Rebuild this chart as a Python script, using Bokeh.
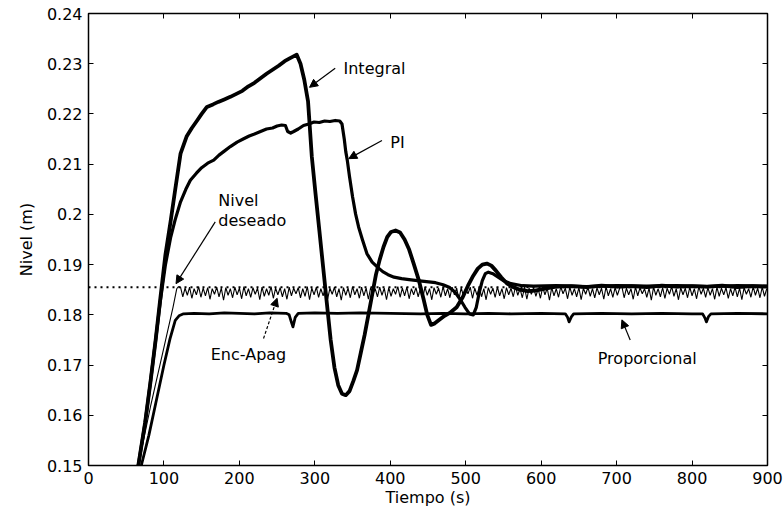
from bokeh.plotting import figure
from bokeh.models import (Range1d, FixedTicker, LinearAxis, Span, Arrow, NormalHead,
                          Label, CustomJSTickFormatter)
from bokeh.embed import file_html
from bokeh.resources import INLINE

# ---------------- data ----------------
x_ticks = [0, 100, 200, 300, 400, 500, 600, 700, 800, 900]
y_ticks = [0.15, 0.16, 0.17, 0.18, 0.19, 0.20, 0.21, 0.22, 0.23, 0.24]

setpoint = 0.1855  # Nivel deseado

integral_t = [66, 75, 82, 89, 95, 102, 109, 115, 122, 130, 137, 144, 150, 157, 165, 172, 180,
              188, 196, 204, 212, 220, 228, 236, 244, 252, 260, 266, 271, 276, 281, 286, 291,
              296, 301, 306, 311, 316, 321, 326, 331, 336, 341, 346, 351, 356, 361, 366, 371,
              376, 381, 386, 391, 396, 401, 407, 413, 419, 425, 431, 438, 444, 449, 454, 459,
              465, 472, 480, 488, 496, 503, 510, 516, 522, 528, 534, 540, 547, 555, 563, 572,
              582, 592, 605, 620, 640, 660, 680, 700, 720, 740, 760, 780, 800, 820, 840, 860,
              880, 900]
integral_y = [0.1500, 0.1585, 0.1665, 0.1750, 0.1830, 0.1920, 0.1988, 0.2050, 0.2121, 0.2155,
              0.2172, 0.2187, 0.2200, 0.2214, 0.2219, 0.2224, 0.2229, 0.2234, 0.2240, 0.2246,
              0.2255, 0.2262, 0.2271, 0.2280, 0.2288, 0.2296, 0.2305, 0.2310, 0.2314, 0.2318,
              0.2300, 0.2268, 0.2225, 0.2115, 0.2040, 0.1968, 0.1895, 0.1822, 0.1750, 0.1695,
              0.1660, 0.1643, 0.1640, 0.1648, 0.1668, 0.1690, 0.1725, 0.1760, 0.1800, 0.1840,
              0.1880, 0.1910, 0.1935, 0.1955, 0.1965, 0.1968, 0.1964, 0.1950, 0.1930, 0.1902,
              0.1868, 0.1832, 0.1800, 0.1780, 0.1783, 0.1790, 0.1798, 0.1805, 0.1815, 0.1835,
              0.1858, 0.1878, 0.1892, 0.1900, 0.1902, 0.1898, 0.1888, 0.1875, 0.1862, 0.1855,
              0.1850, 0.1847, 0.1848, 0.1852, 0.1856, 0.1857, 0.1855, 0.1858, 0.1856, 0.1857,
              0.1855, 0.1858, 0.1856, 0.1857, 0.1856, 0.1858, 0.1855, 0.1857, 0.1856]

pi_t = [66, 75, 82, 89, 95, 102, 109, 115, 122, 129, 135, 143, 150, 158, 166, 173, 180, 188,
        197, 205, 213, 220, 228, 236, 244, 250, 256, 261, 264, 268, 272, 278, 285, 292, 299,
        306, 313, 320, 327, 333, 336, 339, 341, 343, 346, 350, 354, 358, 363, 369, 376, 383,
        390, 397, 405, 415, 425, 436, 448, 460, 470, 478, 486, 493, 499, 505, 510, 514, 518,
        522, 526, 530, 536, 542, 550, 560, 575, 590, 620, 660, 700, 740, 780, 820, 860, 900]
pi_y = [0.1500, 0.1585, 0.1665, 0.1750, 0.1825, 0.1900, 0.1955, 0.1990, 0.2025, 0.2050,
        0.2068, 0.2082, 0.2093, 0.2102, 0.2108, 0.2118, 0.2126, 0.2135, 0.2144, 0.2150,
        0.2156, 0.2160, 0.2165, 0.2170, 0.2172, 0.2176, 0.2178, 0.2177, 0.2165, 0.2162,
        0.2165, 0.2170, 0.2177, 0.2180, 0.2184, 0.2183, 0.2186, 0.2185, 0.2187, 0.2186,
        0.2180, 0.2150, 0.2125, 0.2108, 0.2075, 0.2035, 0.2001, 0.1975, 0.1950, 0.1922,
        0.1905, 0.1895, 0.1886, 0.1880, 0.1875, 0.1872, 0.1870, 0.1868, 0.1866, 0.1864,
        0.1860, 0.1855, 0.1845, 0.1830, 0.1815, 0.1802, 0.1800, 0.1815, 0.1845, 0.1868,
        0.1882, 0.1885, 0.1882, 0.1876, 0.1868, 0.1862, 0.1858, 0.1857, 0.1858, 0.1856,
        0.1858, 0.1857, 0.1858, 0.1856, 0.1858, 0.1857]

prop_t = [70, 80, 89, 100, 108, 115, 120, 126, 140, 160, 180, 200, 220, 240, 262, 266, 269,
          271, 274, 278, 300, 330, 360, 400, 440, 470, 500, 530, 560, 600, 632, 635, 637, 640,
          643, 680, 720, 760, 800, 814, 817, 819, 822, 825, 860, 900]
prop_y = [0.1500, 0.1560, 0.1623, 0.1700, 0.1752, 0.1789, 0.1798, 0.1802, 0.1803, 0.1802,
          0.1804, 0.1803, 0.1802, 0.1804, 0.1803, 0.1800, 0.1785, 0.1776, 0.1795, 0.1803,
          0.1804, 0.1803, 0.1804, 0.1803, 0.1802, 0.1803, 0.1802, 0.1803, 0.1802, 0.1803,
          0.1802, 0.1795, 0.1786, 0.1796, 0.1802, 0.1803, 0.1802, 0.1803, 0.1802, 0.1802,
          0.1794, 0.1786, 0.1797, 0.1802, 0.1803, 0.1802]

# Enc-Apag: rise, then on/off oscillation sampled every 3 s from t = 122 s (units: 0.1 mm)
enc_rise_t = [66, 82, 100, 112, 117, 119]
enc_rise_y = [0.1500, 0.1616, 0.1735, 0.1815, 0.1852, 0.1856]
enc_osc_start = 122
enc_osc_step = 3
enc_osc_mm10 = [
    1855, 1836, 1853, 1839, 1855, 1833, 1852, 1840, 1856, 1835, 1853, 1838, 1854, 1831, 1852,
    1841, 1855, 1836, 1853, 1829, 1854, 1839, 1852, 1834, 1855, 1840, 1853, 1832, 1856, 1838,
    1852, 1835, 1854, 1841, 1853, 1830, 1855, 1837, 1852, 1839, 1856, 1833, 1853, 1840, 1854,
    1836, 1852, 1831, 1855, 1838, 1853, 1842, 1854, 1834, 1852, 1837, 1856, 1830, 1853, 1840,
    1855, 1835, 1852, 1838, 1854, 1832, 1853, 1841, 1855, 1836, 1852, 1829, 1854, 1839, 1853,
    1834, 1856, 1840, 1852, 1833, 1855, 1838, 1853, 1831, 1854, 1842, 1852, 1836, 1855, 1839,
    1853, 1830, 1854, 1837, 1852, 1841, 1856, 1835, 1853, 1838, 1855, 1832, 1852, 1840, 1854,
    1836, 1853, 1833, 1855, 1839, 1852, 1830, 1854, 1841, 1853, 1835, 1856, 1838, 1852, 1834,
    1855, 1840, 1853, 1831, 1854, 1837, 1852, 1842, 1855, 1833, 1853, 1839, 1856, 1836, 1852,
    1830, 1854, 1841, 1853, 1835, 1855, 1838, 1852, 1832, 1854, 1840, 1853, 1836, 1856, 1839,
    1852, 1834, 1855, 1831, 1853, 1841, 1854, 1837, 1852, 1833, 1855, 1840, 1853, 1829, 1854,
    1838, 1852, 1835, 1856, 1842, 1853, 1832, 1855, 1839, 1852, 1836, 1854, 1830, 1853, 1841,
    1855, 1837, 1852, 1834, 1854, 1840, 1853, 1831, 1856, 1838, 1852, 1835, 1854, 1839, 1853,
    1856, 1834, 1853, 1840, 1852, 1831, 1855, 1838, 1854, 1842, 1852, 1835, 1853, 1829, 1855,
    1839, 1852, 1836, 1854, 1833, 1853, 1841, 1856, 1837, 1852, 1830, 1854, 1840, 1853, 1834,
    1855, 1838, 1852, 1832, 1856, 1841, 1853, 1835, 1854, 1839, 1852, 1831, 1855, 1837, 1853,
    1840, 1854, 1833, 1852, 1838, 1855, 1836, 1853, 1830, 1854, 1841, 1852, 1835, 1856, 1839,
    1853, 1834, 1855, 1837, 1852,
]
enc_t = enc_rise_t + [enc_osc_start + enc_osc_step * i for i in range(len(enc_osc_mm10))]
enc_y = enc_rise_y + [v / 10000.0 for v in enc_osc_mm10]

# annotation texts and anchor points (data coordinates)
labels = [
    ("Integral", 338, 0.2291),
    ("PI", 400, 0.2143),
    ("Nivel", 172, 0.2028),
    ("deseado", 172, 0.1988),
    ("Enc-Apag", 162, 0.1721),
    ("Proporcional", 675, 0.1713),
]
arrows = [  # x_start, y_start, x_end, y_end, dashed
    (327, 0.2291, 293, 0.2253, False),
    (389, 0.2147, 345, 0.2111, False),
    (168, 0.1985, 116, 0.1862, False),
    (232, 0.1753, 250, 0.1833, True),
    (718, 0.1750, 707, 0.1790, False),
]

# ---------------- figure ----------------
FONT = "DejaVu Sans"
p = figure(width=783, height=510, output_backend="svg", toolbar_location=None,
           x_range=Range1d(0, 900), y_range=Range1d(0.15, 0.24),
           min_border_left=88, min_border_right=16, min_border_top=13, min_border_bottom=45,
           background_fill_color="white", border_fill_color="white")
p.xgrid.visible = False
p.ygrid.visible = False
p.outline_line_color = "black"
p.outline_line_width = 1.5

fmt = CustomJSTickFormatter(code="return Number(tick.toFixed(2)).toString();")
for ax in (p.xaxis[0], p.yaxis[0]):
    ax.major_tick_in = 5
    ax.major_tick_out = 0
    ax.minor_tick_in = 0
    ax.minor_tick_out = 0
    ax.axis_line_color = "black"
    ax.major_tick_line_color = "black"
    ax.major_label_text_font = FONT
    ax.major_label_text_font_size = "16px"
    ax.major_label_text_color = "black"
    ax.axis_label_text_font = FONT
    ax.axis_label_text_font_size = "16px"
    ax.axis_label_text_font_style = "normal"
    ax.axis_label_text_color = "black"
    ax.formatter = fmt
p.xaxis[0].ticker = FixedTicker(ticks=x_ticks)
p.yaxis[0].ticker = FixedTicker(ticks=y_ticks)
p.xaxis[0].axis_label = "Tiempo (s)"
p.yaxis[0].axis_label = "Nivel (m)"
p.xaxis[0].major_label_standoff = 6
p.yaxis[0].major_label_standoff = 6
p.xaxis[0].axis_label_standoff = 1
p.yaxis[0].axis_label_standoff = 8

blank = CustomJSTickFormatter(code="return '';")
for loc, ticks in (("right", y_ticks), ("above", x_ticks)):
    ax = LinearAxis(ticker=FixedTicker(ticks=ticks), formatter=blank,
                    major_tick_in=5, major_tick_out=0, minor_tick_in=0, minor_tick_out=0,
                    major_label_standoff=0, axis_line_color="black")
    p.add_layout(ax, loc)

p.add_layout(Span(location=setpoint, dimension="width", line_color="black",
                  line_width=2, line_dash="2 4"))

p.line(enc_t, enc_y, line_color="black", line_width=1.1)
p.line(prop_t, prop_y, line_color="black", line_width=2.8, line_join="round")
p.line(pi_t, pi_y, line_color="black", line_width=3.2, line_join="round")
p.line(integral_t, integral_y, line_color="black", line_width=3.8, line_join="round")

for txt, x, y in labels:
    p.add_layout(Label(x=x, y=y, text=txt, text_font=FONT, text_font_size="16px",
                       text_color="black", text_baseline="alphabetic", text_align="left"))

for xs, ys, xe, ye, dashed in arrows:
    p.add_layout(Arrow(x_start=xs, y_start=ys, x_end=xe, y_end=ye, line_color="black",
                       line_width=1.2, line_dash="3 2" if dashed else "solid",
                       end=NormalHead(size=8, fill_color="black", line_color="black")))

open("out.html", "w").write(file_html(p, INLINE))
